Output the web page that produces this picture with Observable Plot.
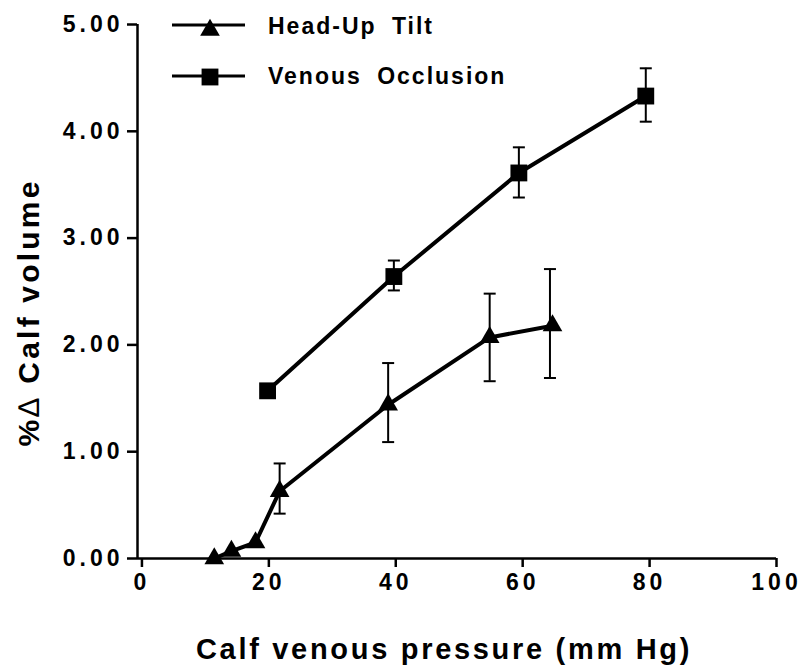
<!DOCTYPE html>
<html>
<head>
<meta charset="utf-8">
<script src="https://cdn.jsdelivr.net/npm/d3@7"></script>
<script src="https://cdn.jsdelivr.net/npm/@observablehq/plot@0.6"></script>
<style>
  html, body { margin: 0; padding: 0; background: #fff; }
  #wrap { position: relative; width: 802px; height: 669px; font-family: "Liberation Sans", Arial, Helvetica, sans-serif; }
  #wrap svg text { font-weight: bold; }
  g[aria-label="y-axis tick label"] text, g[aria-label="x-axis tick label"] text { letter-spacing: 4px; }
  #legend text { letter-spacing: 2px; word-spacing: 7px; }
  #legend { position: absolute; left: 0; top: 0; }
</style>
</head>
<body>
<div id="wrap"></div>
<script>
// ---- data ----
const xTicks = [0, 20, 40, 60, 80, 100];
const yTicks = [0, 1, 2, 3, 4, 5];
const xTitle = "Calf venous pressure (mm Hg)";
const yTitle = "%\u2206 Calf volume";
const seriesNames = ["Head-Up Tilt", "Venous Occlusion"];

const tiltX = [11.4, 14.1, 17.9, 21.7, 38.8, 54.8, 64.7];
const tiltY = [0.0, 0.07, 0.15, 0.63, 1.44, 2.07, 2.18];
const tiltErrX = [21.7, 38.8, 54.8, 64.3];
const tiltErrLo = [0.42, 1.09, 1.66, 1.69];
const tiltErrHi = [0.89, 1.83, 2.48, 2.71];

const occX = [19.8, 39.7, 59.4, 79.4];
const occY = [1.57, 2.64, 3.61, 4.33];
const occErrX = [39.7, 59.4, 79.4];
const occErrLo = [2.51, 3.38, 4.09];
const occErrHi = [2.79, 3.85, 4.59];

// ---- tables ----
const tilt = tiltX.map((x, i) => ({x, y: tiltY[i]}));
const occ = occX.map((x, i) => ({x, y: occY[i]}));
const errs = [
  ...tiltErrX.map((x, i) => ({x, lo: tiltErrLo[i], hi: tiltErrHi[i]})),
  ...occErrX.map((x, i) => ({x, lo: occErrLo[i], hi: occErrHi[i]}))
];

const cap = { draw(ctx) { ctx.moveTo(-6, 0); ctx.lineTo(6, 0); } };
const xMin = -0.7;

const chart = Plot.plot({
  width: 802,
  height: 669,
  marginLeft: 137,
  marginRight: 26,
  marginTop: 24,
  marginBottom: 111,
  x: {domain: [xMin, 100]},
  y: {domain: [0, 5]},
  style: {fontFamily: "'Liberation Sans', Arial, Helvetica, sans-serif", fontWeight: "bold", color: "black", background: "white", overflow: "visible"},
  marks: [
    Plot.ruleY([0], {x1: xMin, x2: 100, stroke: "black", strokeWidth: 2.5}),
    Plot.ruleX([xMin], {y1: 0, y2: 5, stroke: "black", strokeWidth: 2.5}),
    Plot.axisX({ticks: xTicks, tickSize: 9, tickPadding: 6, strokeWidth: 2.5, fontSize: 23, label: null, tickFormat: d => String(d), fill: "black"}),
    Plot.axisY({ticks: yTicks, tickSize: 10, tickPadding: 4, strokeWidth: 2.5, fontSize: 23, label: null, tickFormat: d => d.toFixed(2), fill: "black"}),
    Plot.ruleX(errs, {x: "x", y1: "lo", y2: "hi", stroke: "black", strokeWidth: 2}),
    Plot.dot(errs, {x: "x", y: "lo", symbol: cap, stroke: "black", strokeWidth: 2, fill: "none"}),
    Plot.dot(errs, {x: "x", y: "hi", symbol: cap, stroke: "black", strokeWidth: 2, fill: "none"}),
    Plot.line(tilt, {x: "x", y: "y", stroke: "black", strokeWidth: 4}),
    Plot.line(occ, {x: "x", y: "y", stroke: "black", strokeWidth: 4}),
    Plot.dot(tilt, {x: "x", y: "y", symbol: "triangle", r: 7.3, fill: "black", stroke: "none"}),
    Plot.dot(occ, {x: "x", y: "y", symbol: "square", r: 9.5, fill: "black", stroke: "none"}),
    Plot.text([xTitle], {frameAnchor: "bottom", textAnchor: "middle", lineAnchor: "bottom", dy: 100, dx: -13, fontSize: 29, fill: "black"}),
    Plot.text([yTitle], {frameAnchor: "left", textAnchor: "middle", lineAnchor: "middle", rotate: -90, dx: -108, dy: 21, fontSize: 30, fill: "black"})
  ]
});

// letter spacing for the axis titles; thin delta sign as in the original
d3.select(chart).selectAll("text").each(function() {
  const t = this.textContent;
  if (t === xTitle) this.style.letterSpacing = "2.7px";
  if (t === yTitle) {
    this.style.letterSpacing = "3.2px";
    const sel = d3.select(this);
    sel.text(null);
    sel.append("tspan").text(t.slice(0, 1));
    sel.append("tspan").attr("font-weight", "normal").text(t.slice(1, 2));
    sel.append("tspan").text(t.slice(2));
  }
});

const wrap = document.getElementById("wrap");
wrap.appendChild(chart);

// ---- legend overlay ----
const leg = d3.select(wrap).append("svg").attr("id", "legend").attr("width", 802).attr("height", 110);
const legSymbols = [d3.symbolTriangle, d3.symbolSquare];
const legSizes = [Math.PI * 7.3 * 7.3, Math.PI * 9.5 * 9.5];
const legLineY = [25, 76];
const legMarkY = [30, 77];
const legTextY = [34, 84];
seriesNames.forEach((name, i) => {
  leg.append("line").attr("x1", 172).attr("x2", 245).attr("y1", legLineY[i]).attr("y2", legLineY[i])
     .attr("stroke", "black").attr("stroke-width", 3);
  leg.append("path").attr("d", d3.symbol(legSymbols[i], legSizes[i])()).attr("transform", `translate(210,${legMarkY[i]})`).attr("fill", "black");
  leg.append("text").attr("x", 268).attr("y", legTextY[i]).attr("font-size", 23).attr("font-weight", "bold")
     .attr("font-family", "'Liberation Sans', Arial, sans-serif").attr("fill", "black").text(name);
});
</script>
</body>
</html>
